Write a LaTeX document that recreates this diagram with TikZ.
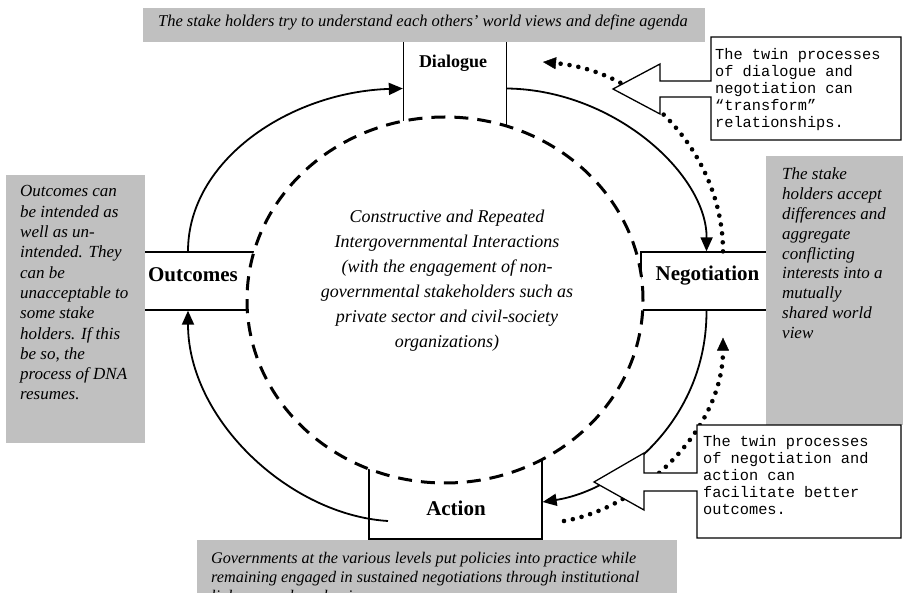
\documentclass[tikz,border=0pt]{standalone}
\usepackage{fontspec}
\setmainfont{Liberation Serif}
\newfontfamily\monofont{Liberation Mono}
\usetikzlibrary{arrows.meta}
\definecolor{greybox}{RGB}{192,192,192}
\begin{document}
\begin{tikzpicture}[x=1pt,y=-1pt,
  greyarea/.style={fill=greybox,draw=none},
  stagebox/.style={draw,fill=white,line width=1.3pt,inner sep=0pt,minimum width=#1},
  stagelab/.style={font=\bfseries\fontsize{21}{24}\selectfont,anchor=base,inner sep=0pt},
  flow/.style={line width=1.8pt,-{Triangle[length=14pt,width=12pt]}},
  dotflow/.style={line width=4.6pt,line cap=round,dash pattern=on 0pt off 9pt,-{Triangle[length=13pt,width=12pt,line width=0.4pt]}},
  calloutshape/.style={draw,fill=white,line width=1.3pt,line join=miter},
  greytext/.style={anchor=base west,inner sep=0pt},
  monotext/.style={anchor=base west,inner sep=0pt,font=\monofont\fontsize{15.3}{17}\selectfont},
  ring/.style={line width=3pt,dash pattern=on 14pt off 9pt,fill=white}
]
\useasboundingbox (0,0) rectangle (903,593);
\clip (0,0) rectangle (903,593);
\fill[white] (0,0) rectangle (903,593);

% stage boxes (partly covered by grey areas and the ring)
\node[stagebox=103pt,minimum height=105pt] (dbox) at (455,88.5) {};
\node[stagebox=130pt,minimum height=58pt] (obox) at (205,281) {};
\node[stagebox=131pt,minimum height=58pt] (nbox) at (706.5,281) {};
\node[stagebox=173pt,minimum height=84pt] (abox) at (455.5,497) {};

% grey areas
\fill[greyarea] (143,8) rectangle (705,42);
\fill[greyarea] (6,175) rectangle (145,443);
\fill[greyarea] (766,156) rectangle (903,425);
\fill[greyarea] (197,540) rectangle (677,600);

% dashed ring
\draw[ring] (445,300) ellipse [x radius=198pt, y radius=183pt];

% texts in grey areas
\node[anchor=base,inner sep=0pt,font=\itshape\fontsize{16.5}{19}\selectfont] (ttop) at (423,27)
  {The stake holders try to understand each others’ world views and define agenda};
\node[greytext] (tleft) at (20,197) {\parbox[t]{124pt}{\raggedright\itshape\fontsize{17}{20.3}\selectfont
  Outcomes can\\ be intended as\\ well as un-\\ intended. They\\ can be\\ unacceptable to\\ some stake\\ holders. If this\\ be so, the\\ process of DNA\\ resumes.}};
\node[greytext] (tright) at (782,180) {\parbox[t]{120pt}{\raggedright\itshape\fontsize{17}{19.8}\selectfont
  The stake\\ holders accept\\ differences and\\ aggregate\\ conflicting\\ interests into a\\ mutually\\ shared world\\ view}};
\node[greytext] (tbottom) at (211,564) {\parbox[t]{470pt}{\raggedright\itshape\fontsize{16.2}{19}\selectfont
  Governments at the various levels put policies into practice while\\ remaining engaged in sustained negotiations through institutional\\ linkages and mechanisms.}};

% centre text
\node[anchor=base,inner sep=0pt] (centre) at (447,223) {\parbox[t]{300pt}{\centering\itshape\fontsize{18}{25}\selectfont
  Constructive and Repeated\\ Intergovernmental Interactions\\ (with the engagement of non-\\ governmental stakeholders such as\\ private sector and civil-society\\ organizations)}};

% stage labels
\node[stagelab,font=\bfseries\fontsize{18}{20}\selectfont] (dlab) at (453,68) {Dialogue};
\node[stagelab] (olab) at (193,282) {Outcomes};
\node[stagelab] (nlab) at (707.5,281) {Negotiation};
\node[stagelab] (alab) at (456,516) {Action};

% coordinates for free ends
\coordinate (ain) at (388,521);
\coordinate (adot) at (564,521);
\coordinate (ddot) at (543,62);

% solid cycle
\draw[flow] ([xshift=-17pt]obox.north) .. controls (188,160) and (290,92) .. (dbox.west);
\draw[flow] (dbox.east) .. controls (615,90) and (707,175) .. (nbox.north);
\draw[flow] (nbox.south) .. controls (707,420) and (620,490) .. ([yshift=-5pt]abox.east);
\draw[flow] (ain) .. controls (290,515) and (188,420) .. ([xshift=-17pt]obox.south);

% dotted arrows
\draw[dotflow] ([xshift=16.5pt]nbox.north) .. controls (723,160) and (650,72) .. (ddot);
\draw[dotflow] (adot) .. controls (640,508) and (723,430) .. ([xshift=16.5pt,yshift=-27pt]nbox.south);

% callouts
\draw[calloutshape] (711,37) -- (901,37) -- (901,140) -- (711,140) -- (711,97) -- (660,97)
  -- (660,114) -- (613,89) -- (660,64) -- (660,81) -- (711,81) -- cycle;
\node[monotext] (ctop) at (715,60) {\parbox[t]{185pt}{The twin processes\\ of dialogue and\\ negotiation can\\ “transform”\\ relationships.}};
\draw[calloutshape] (697,425) -- (901,425) -- (901,538) -- (697,538) -- (697,491) -- (644,491)
  -- (644,510) -- (594,482) -- (644,453) -- (644,473) -- (697,473) -- cycle;
\node[monotext] (cbot) at (703,447) {\parbox[t]{195pt}{The twin processes\\ of negotiation and\\ action can\\ facilitate better\\ outcomes.}};
\end{tikzpicture}
\end{document}
